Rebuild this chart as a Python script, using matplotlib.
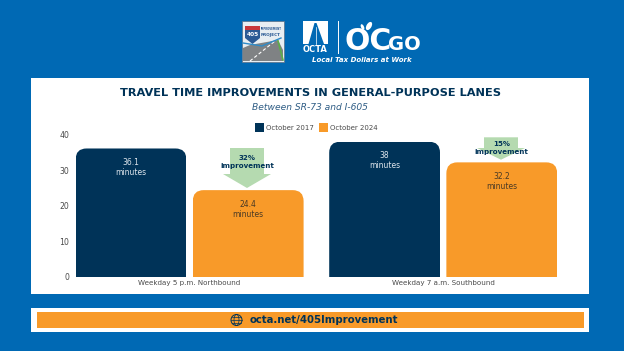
import matplotlib
matplotlib.use("Agg")
from matplotlib import pyplot as plt
from matplotlib.patches import PathPatch, Polygon, Rectangle, Circle, Ellipse
from matplotlib.path import Path

plt.rcParams["font.family"] = ["DejaVu Sans"]

W, H = 624, 351
BLUE = "#0069B4"
NAVY = "#003358"
ORANGE = "#F89A29"
GREEN = "#B5DAB0"
GREY = "#4A4A4A"

# data
routes = ["Weekday 5 p.m. Northbound", "Weekday 7 a.m. Southbound"]
oct_2017 = [36.1, 38]
oct_2024 = [24.4, 32.2]
labels_2017 = ["36.1\nminutes", "38\nminutes"]
labels_2024 = ["24.4\nminutes", "32.2\nminutes"]
improvements = ["32%\nimprovement", "15%\nimprovement"]
yticks = [0, 10, 20, 30, 40]

fig = plt.figure(figsize=(W / 100, H / 100), dpi=100, facecolor=BLUE)

# page furniture, in pixel coordinates
bg = fig.add_axes([0, 0, 1, 1], zorder=0)
bg.set_xlim(0, W)
bg.set_ylim(H, 0)
bg.axis("off")
bg.add_patch(Rectangle((31, 78), 558, 216, fc="white", ec="none"))
bg.add_patch(Rectangle((31, 307.5), 558, 24.5, fc="white", ec="none"))
bg.add_patch(Rectangle((37, 312), 547, 16, fc=ORANGE, ec="none"))

bg.text(310, 93.5, "TRAVEL TIME IMPROVEMENTS IN GENERAL-PURPOSE LANES", color=NAVY,
        fontsize=8.2, fontweight="bold", ha="center", va="center")
bg.text(310, 107.5, "Between SR-73 and I-605", color="#2F5D85", fontsize=6.6,
        style="italic", ha="center", va="center")
bg.text(323.5, 320, "octa.net/405Improvement", color=NAVY, fontsize=7.3, fontweight="bold",
        ha="center", va="center")

# globe icon
bg.add_patch(Circle((236.5, 320), 5.5, fc="none", ec=NAVY, lw=0.7))
bg.add_patch(Ellipse((236.5, 320), 5, 11, fc="none", ec=NAVY, lw=0.5))
bg.plot([231, 242], [320, 320], color=NAVY, lw=0.5)
bg.plot([232, 241], [317, 317], color=NAVY, lw=0.5)
bg.plot([232, 241], [323, 323], color=NAVY, lw=0.5)

# 405 logo
bg.add_patch(Rectangle((242, 21), 42, 41, fc="#E8EEF2", ec="#5A6E85", lw=0.5))
bg.add_patch(Polygon([(243, 61), (243, 48), (250, 45), (278, 40), (283, 50), (283, 61)], fc="#7F8284", ec="none"))
bg.plot([250, 275], [61, 41], color="white", lw=0.8, ls=(0, (3, 2)))
bg.plot([243, 262, 281], [43, 46, 38], color="#2E8BC8", lw=1)
bg.plot([278, 283], [41, 60], color="#5DAE4B", lw=1.2)
bg.add_patch(Polygon([(245, 26), (260, 26), (260, 38), (252.5, 44), (245, 38)], fc="#2B5A94", ec="none"))
bg.add_patch(Rectangle((245, 26), 15, 4, fc="#C8373A", ec="none"))
bg.text(252.5, 34, "405", color="white", fontsize=4.2, fontweight="bold", ha="center", va="center")
bg.text(271, 29, "IMPROVEMENT", color="#2B5A94", fontsize=1.8, fontweight="bold", ha="center", va="center")
bg.text(271, 35, "PROJECT", color="#2B5A94", fontsize=3, fontweight="bold", ha="center", va="center")

# OCTA logo
bg.add_patch(Rectangle((303, 21), 25, 23, fc="white", ec="none"))
bg.add_patch(Polygon([(308.5, 44), (314.5, 23), (316.5, 23), (324, 44)], fc=BLUE, ec="none"))
bg.plot([315.5, 315.5], [27, 44], color="white", lw=0.5)
bg.text(315.5, 49.5, "OCTA", color="white", fontsize=6, fontweight="bold", ha="center", va="center")
bg.plot([337.5, 337.5], [21, 53], color="white", lw=0.7)

# OCGO logo
bg.text(344, 42, "OC", color="white", fontsize=21.5, fontweight="bold", ha="left", va="center")
bg.text(388, 44, "GO", color="white", fontsize=14, fontweight="bold", ha="left", va="center")
bg.add_patch(Ellipse((369, 26), 5, 9, angle=30, fc="white", ec="none"))
bg.add_patch(Ellipse((362.5, 27), 3, 6, angle=-25, fc="white", ec="none"))
bg.text(362, 60, "Local Tax Dollars at Work", color="white", fontsize=5, fontweight="bold",
        style="italic", ha="center", va="center")

# chart axes, placed to line up with the panel
left, right, bottom, top = 72, 570, 277, 134.6
ax = fig.add_axes([left / W, 1 - bottom / H, (right - left) / W, (bottom - top) / H], zorder=1)
ax.patch.set_alpha(0)
ax.set_xlim(-0.4637, 1.5)
ax.set_ylim(0, 40)
for s in ax.spines.values():
    s.set_visible(False)

width = 0.437
offset = 0.231
xs = list(range(len(routes)))
bars_2017 = ax.bar([x - offset for x in xs], oct_2017, width, color=NAVY, label="October 2017")
bars_2024 = ax.bar([x + offset for x in xs], oct_2024, width, color=ORANGE, label="October 2024")


def round_top(bar, rx=0.043, ry=3.1):
    # clip the top corners of a bar
    x0, w, h = bar.get_x(), bar.get_width(), bar.get_height()
    x1 = x0 + w
    verts = [(x0, 0), (x0, h - ry), (x0, h), (x0 + rx, h), (x1 - rx, h), (x1, h), (x1, h - ry), (x1, 0), (x0, 0)]
    codes = [Path.MOVETO, Path.LINETO, Path.CURVE3, Path.CURVE3, Path.LINETO, Path.CURVE3, Path.CURVE3, Path.LINETO, Path.CLOSEPOLY]
    clip = PathPatch(Path(verts, codes), transform=ax.transData, fc="none", ec="none")
    ax.add_patch(clip)
    bar.set_clip_path(clip)


for bar in list(bars_2017) + list(bars_2024):
    round_top(bar)

for bar, txt in zip(bars_2017, labels_2017):
    ax.text(bar.get_x() + bar.get_width() / 2, bar.get_height() - 2.7, txt, color="#DDE5EC",
            fontsize=5.5, ha="center", va="top", linespacing=1.15)
for bar, txt in zip(bars_2024, labels_2024):
    ax.text(bar.get_x() + bar.get_width() / 2, bar.get_height() - 2.7, txt, color="#4A3A25",
            fontsize=5.5, ha="center", va="top", linespacing=1.15)

# improvement arrows, sized in pixels from the orange bar tops
arrow_shape = [(230, 264, 223, 271, 148, 174, 188), (484, 518, 477, 525, 137.3, 148, 159.7)]
text_y = [162, 148]
for shape, txt, ty in zip(arrow_shape, improvements, text_y):
    sl, sr, wl, wr, y_top, y_wing, y_tip = shape
    bg.add_patch(Polygon([(sl, y_top), (sr, y_top), (sr, y_wing), (wr, y_wing), ((sl + sr) / 2, y_tip),
                          (wl, y_wing), (sl, y_wing)], fc=GREEN, ec="none"))
    bg.text((sl + sr) / 2 + 0.5, ty, txt, color=NAVY, fontsize=5.1,
            fontweight="bold", ha="center", va="center", linespacing=1.4)

ax.set_xticks(xs, routes)
ax.set_yticks(yticks)
ax.tick_params(length=0, labelsize=5.6, labelcolor=GREY)
ax.tick_params(axis="x", labelsize=5.15, pad=2.5)
ax.tick_params(axis="y", pad=2)

leg = ax.legend(loc="center", bbox_to_anchor=(316.5 / W, 1 - 127.5 / H), bbox_transform=fig.transFigure, ncol=2,
                frameon=False, handlelength=1.3, handleheight=1.6, handletextpad=0.3, columnspacing=0.7,
                labelcolor=GREY, prop={"size": 5.0})

fig.savefig("out.png", dpi=100, facecolor=BLUE)
